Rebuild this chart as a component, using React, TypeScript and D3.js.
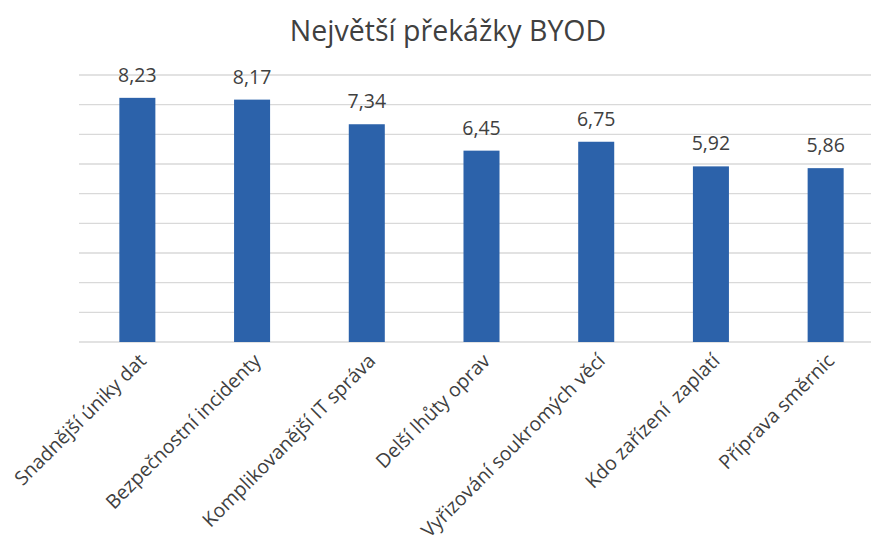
import React from "react";
import * as d3 from "d3";

const categories = [
  "Snadnější úniky dat",
  "Bezpečnostní incidenty",
  "Komplikovanější IT správa",
  "Delší lhůty oprav",
  "Vyřizování soukromých věcí",
  "Kdo zařízení  zaplatí",
  "Příprava směrnic",
];
const values = [8.23, 8.17, 7.34, 6.45, 6.75, 5.92, 5.86];
const gridTicks = [0, 1, 2, 3, 4, 5, 6, 7, 8, 9];
const title = "Největší překážky BYOD";

const W = 871;
const H = 544;

export default function App() {
  const x = d3
    .scaleBand<string>()
    .domain(categories)
    .range([80, 883])
    .paddingInner(0.686)
    .paddingOuter(0.343);
  const y = d3.scaleLinear().domain([0, 9]).range([342, 75]);
  const fmt = (v: number) => v.toFixed(2).replace(".", ",");
  const font = "'Open Sans', sans-serif";

  return (
    <svg
      width={W}
      height={H}
      style={{ position: "absolute", left: 0, top: 0, background: "#fff" }}
    >
      <text
        x={448}
        y={41}
        textAnchor="middle"
        fontFamily={font}
        fontSize={28.5}
        fill="#404040"
      >
        {title}
      </text>
      {gridTicks.map((t) => (
        <line
          key={t}
          x1={79}
          x2={W}
          y1={y(t)}
          y2={y(t)}
          stroke="#d9d9d9"
          strokeWidth={1.3}
        />
      ))}
      {categories.map((c, i) => {
        const bx = x(c)!;
        const bw = x.bandwidth();
        const cx = bx + bw / 2;
        return (
          <g key={c}>
            <rect
              x={bx}
              y={y(values[i])}
              width={bw}
              height={y(0) - y(values[i])}
              fill="#2c62aa"
            />
            <text
              x={cx}
              y={y(values[i]) - 16}
              textAnchor="middle"
              fontFamily={font}
              fontSize={19.5}
              fill="#404040"
            >
              {fmt(values[i])}
            </text>
            <text
              transform={`translate(${cx + 10},${362}) rotate(-45)`}
              textAnchor="end"
              fontFamily={font}
              fontSize={19.5}
              fill="#404040"
              style={{ whiteSpace: "pre" }}
            >
              {c}
            </text>
          </g>
        );
      })}
    </svg>
  );
}
